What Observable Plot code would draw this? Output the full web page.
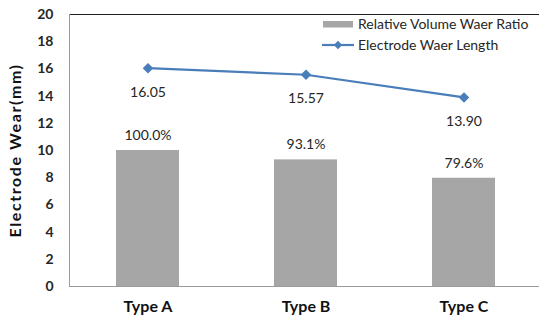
<!DOCTYPE html>
<html>
<head>
<meta charset="utf-8">
<script src="https://cdn.jsdelivr.net/npm/d3@7"></script>
<script src="https://cdn.jsdelivr.net/npm/@observablehq/plot@0.6"></script>
<style>
  html, body { margin: 0; padding: 0; background: #fff; }
  #chart svg { display: block; }
</style>
</head>
<body>
<div id="chart"></div>
<script>
// Electrode wear by electrode type
const categories = ["Type A", "Type B", "Type C"];
const volumeRatio = [100.0, 93.1, 79.6];      // relative volume wear ratio, %
const wearLength = [16.05, 15.57, 13.90];     // electrode wear length, mm
const yTicks = [0, 2, 4, 6, 8, 10, 12, 14, 16, 18, 20];
const yTitle = "Electrode Wear(mm)";
const legendLabels = ["Relative Volume Waer Ratio", "Electrode Waer Length"];

const rows = categories.map((type, i) => ({
  type,
  ratio: volumeRatio[i],
  wear: wearLength[i]
}));

const W = 539, H = 325;
const mLeft = 69, mTop = 14, mBottom = 39;
const font = "Lato, 'Open Sans', sans-serif";
const barColor = "#a6a6a6";
const lineColor = "#4a7ebb";
const textColor = "#262626";

// the ratio bars share the mm axis: 100% reaches 10
const ratioToAxis = d => d.ratio / 10;

const chart = Plot.plot({
  width: W,
  height: H,
  marginLeft: mLeft,
  marginRight: 0,
  marginTop: mTop,
  marginBottom: mBottom,
  style: { fontFamily: font, fontSize: "14px", color: textColor, background: "#fff" },
  x: { domain: categories, range: [mLeft, W + 4], paddingInner: 0.6, paddingOuter: 0.3, axis: null },
  y: { domain: [0, 20], axis: null },
  marks: [
    Plot.barY(rows, { x: "type", y: ratioToAxis, fill: barColor }),
    Plot.ruleY([20], { stroke: "#222", strokeWidth: 1 }),
    Plot.ruleY([0], { stroke: "#9a9a9a", strokeWidth: 1 }),
    Plot.frame({ anchor: "left", stroke: "#9a9a9a" }),
    Plot.axisY({ ticks: yTicks, tickSize: 0, tickPadding: 16, fontWeight: "bold", fontSize: 14, fill: textColor, label: null }),
    Plot.axisX({ tickSize: 0, tickPadding: 14, fontWeight: "bold", fontSize: 16, fill: "#111", label: null }),
    Plot.text([yTitle], {
      frameAnchor: "left", textAnchor: "middle", rotate: -90, dx: -54,
      fontWeight: "bold", fontSize: 16, fill: "#111",
      style: "letter-spacing: 1.6px"
    }),
    Plot.line(rows, { x: "type", y: "wear", stroke: lineColor, strokeWidth: 2.2 }),
    Plot.dot(rows, { x: "type", y: "wear", symbol: "diamond2", r: 3.8, fill: lineColor, stroke: lineColor }),
    Plot.text(rows, { x: "type", y: "wear", dy: 24, text: d => d.wear.toFixed(2), fill: textColor, fontSize: 14 }),
    Plot.text(rows, { x: "type", y: ratioToAxis, dy: -15, text: d => d.ratio.toFixed(1) + "%", fill: textColor, fontSize: 14 })
  ]
});

// letter spacing for the rotated axis title
d3.select(chart).selectAll("text").filter(function () { return this.textContent === yTitle; })
  .style("letter-spacing", "1.6px");

// legend in the upper right of the plot area
const svg = d3.select(chart);
const lg = svg.append("g")
  .attr("font-family", font)
  .attr("font-size", 14)
  .attr("text-anchor", "start")
  .attr("fill", textColor);
lg.append("rect").attr("x", 323).attr("y", 21).attr("width", 30).attr("height", 6.5).attr("fill", barColor);
lg.append("text").attr("x", 358).attr("y", 24).attr("dy", "0.35em").text(legendLabels[0]);
lg.append("line").attr("x1", 322).attr("x2", 354).attr("y1", 45).attr("y2", 45)
  .attr("stroke", lineColor).attr("stroke-width", 2.2);
lg.append("path").attr("d", d3.symbol(d3.symbolDiamond2, Math.PI * 3.8 * 3.8)())
  .attr("transform", "translate(338,45)").attr("fill", lineColor);
lg.append("text").attr("x", 358).attr("y", 45).attr("dy", "0.35em").text(legendLabels[1]);

document.getElementById("chart").append(chart);
</script>
</body>
</html>
